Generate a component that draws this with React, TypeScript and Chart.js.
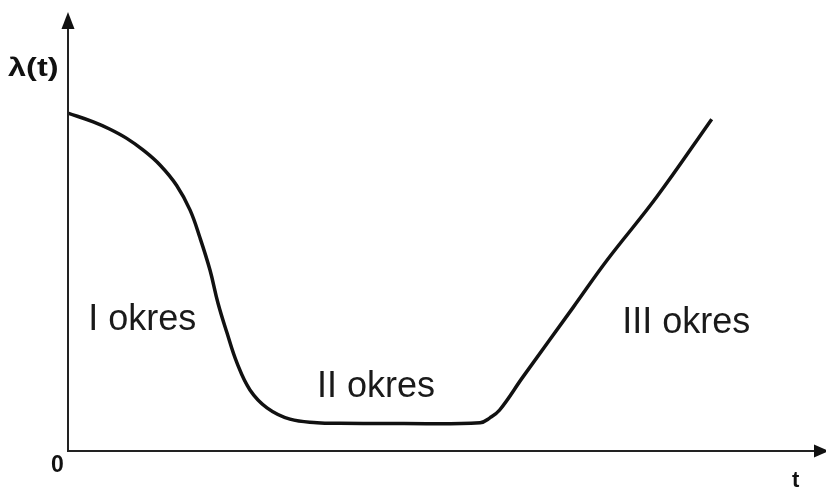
import React, { useEffect, useRef } from "react";
import { Chart, registerables } from "chart.js";

Chart.register(...registerables);

// Curve samples (t in 0..100, lambda in 0..100 arbitrary units)
const tValues = [0, 3.36, 5.59, 7.81, 10.01, 12.23, 14.45, 16.22, 17.55, 18.88, 19.95, 21.14, 22.47, 24.2, 26.46, 29.52, 33.11, 36.17, 44.1, 54.8, 56.1, 57.4, 60.5, 67.2, 71.7, 78.3, 85.6];
const lambdaValues = [77.5, 75.5, 73.8, 71.7, 69.0, 65.6, 60.9, 55.3, 48.9, 41.5, 33.9, 27.1, 20.2, 14.0, 9.9, 7.3, 6.5, 6.35, 6.3, 6.5, 7.6, 9.4, 17.0, 33.0, 43.8, 58.3, 76.1];

const periodLabels = ["I okres", "II okres", "III okres"];
const periodT = [2.7, 33.1, 73.7]; // left edge of label, in t units
const periodLambda = [27.8, 12.4, 27.1]; // baseline, in lambda units

const yAxisTitle = "λ(t)";
const xAxisTitle = "t";
const originLabel = "0";

const axesPlugin = {
  id: "axesArrows",
  afterDatasetsDraw(chart: any) {
    const { ctx, chartArea } = chart;
    const x0 = chartArea.left;
    const y0 = chartArea.bottom;
    ctx.save();
    ctx.strokeStyle = "#222";
    ctx.fillStyle = "#111";
    ctx.lineWidth = 2;
    // y axis
    ctx.beginPath();
    ctx.moveTo(x0, y0 + 1);
    ctx.lineTo(x0, 26);
    ctx.stroke();
    ctx.beginPath();
    ctx.moveTo(x0, 12);
    ctx.lineTo(x0 - 6.5, 29);
    ctx.lineTo(x0 + 6.5, 29);
    ctx.closePath();
    ctx.fill();
    // x axis
    ctx.beginPath();
    ctx.moveTo(x0 - 1, y0);
    ctx.lineTo(816, y0);
    ctx.stroke();
    ctx.beginPath();
    ctx.moveTo(829, y0);
    ctx.lineTo(814, y0 - 6.5);
    ctx.lineTo(814, y0 + 6.5);
    ctx.closePath();
    ctx.fill();

    // labels
    ctx.fillStyle = "#111";
    ctx.textAlign = "left";
    ctx.textBaseline = "alphabetic";
    ctx.save();
    ctx.translate(8, 76);
    ctx.scale(1.3, 1);
    ctx.font = "bold 25px 'Liberation Sans', Arial, sans-serif";
    ctx.fillText(yAxisTitle, 0, 0);
    ctx.restore();
    ctx.font = "bold 23px 'Liberation Sans', Arial, sans-serif";
    ctx.fillText(originLabel, 51, 472);
    ctx.font = "bold 22px 'Liberation Sans', Arial, sans-serif";
    ctx.fillText(xAxisTitle, 792, 487);

    const xs = chart.scales.x;
    const ys = chart.scales.y;
    ctx.font = "36px 'Liberation Sans', Arial, sans-serif";
    ctx.fillStyle = "#1a1a1a";
    periodLabels.forEach((lab, i) => {
      ctx.fillText(lab, xs.getPixelForValue(periodT[i]), ys.getPixelForValue(periodLambda[i]));
    });
    ctx.restore();
  },
};

export default function App() {
  const ref = useRef<HTMLCanvasElement>(null);
  useEffect(() => {
    if (!ref.current) return;
    const chart = new Chart(ref.current, {
      type: "scatter",
      data: {
        datasets: [
          {
            data: tValues.map((t, i) => ({ x: t, y: lambdaValues[i] })),
            showLine: true,
            borderColor: "#111",
            borderWidth: 3.5,
            pointRadius: 0,
            tension: 0.4,
            fill: false,
          },
        ],
      },
      options: {
        responsive: false,
        animation: false,
        layout: { padding: { left: 68, top: 15, right: 6, bottom: 37 } },
        plugins: { legend: { display: false }, tooltip: { enabled: false } },
        scales: {
          x: { type: "linear", min: 0, max: 100, display: false },
          y: { type: "linear", min: 0, max: 100, display: false },
        },
      },
      plugins: [axesPlugin],
    });
    return () => chart.destroy();
  }, []);
  return (
    <div style={{ position: "absolute", left: 0, top: 0, width: 826, height: 488, background: "#fff" }}>
      <canvas ref={ref} width={826} height={488} style={{ display: "block" }} />
    </div>
  );
}
